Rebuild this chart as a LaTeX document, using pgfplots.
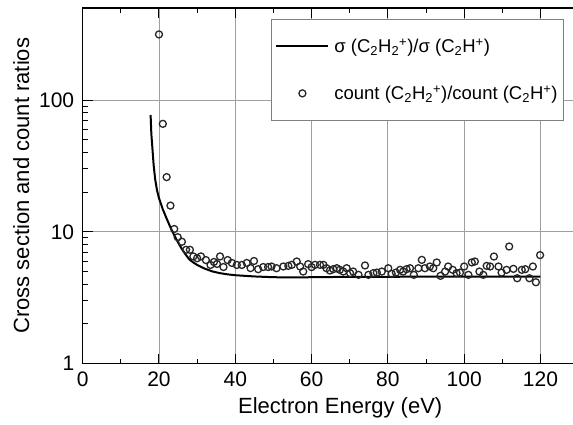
\documentclass[border=0pt]{standalone}
\usepackage{fontspec}
\setmainfont{Liberation Sans}
\usepackage{pgfplots}
\pgfplotsset{compat=1.18}

\newcommand{\subsup}[2]{\textsubscript{#1}\textsuperscript{#2}}

\begin{document}
\begin{tikzpicture}
\useasboundingbox (-82.7bp,-61.5bp) rectangle (490.3bp,363.5bp);
\begin{axis}[
    at={(0,0)}, anchor=south west,
    scale only axis,
    width=515bp, height=355.5bp,
    xmin=0, xmax=135,
    ymode=log, ymin=1, ymax=500,
    xtick={0,20,...,120},
    minor x tick num=1,
    ytick={1,10,100},
    yticklabels={1,10,100},
    /pgf/number format/assume math mode=true,
    grid=major,
    major grid style={gray!75, line width=0.9bp},
    axis line style={line width=1.6bp},
    tick style={black, line width=1bp},
    major tick length=10bp,
    minor tick length=5bp,
    tick label style={font=\fontsize{21bp}{24bp}\selectfont},
    xticklabel style={yshift=-5bp},
    yticklabel style={xshift=-5bp},
    label style={font=\fontsize{22bp}{26bp}\selectfont},
    xlabel={Electron Energy (eV)},
    xlabel style={yshift=-4bp},
    ylabel={Cross section and count ratios},
    ylabel style={yshift=3bp},
    legend cell align=left,
    legend image code/.code={\draw[mark repeat=2,mark phase=2,#1] plot coordinates {(0bp,0bp)(26bp,0bp)(52bp,0bp)};},
    legend style={at={(0.9346,0.97)}, anchor=north east,
        draw=gray, line width=0.8bp, fill=white,
        font=\fontsize{18.5bp}{22bp}\selectfont,
        row sep=28bp, column sep=3bp, inner xsep=4bp, inner ysep=17.5bp},
]
\addplot[black, line width=2bp, no marks] coordinates {
    (17.8,77) (18.0,55) (18.3,42) (18.6,32) (19.0,25) (19.5,20.5) (20,18)
    (21,14.8) (22,12.6) (23,10.8) (24,9.4) (25,8.3) (26,7.4) (27,6.7)
    (28,6.15) (29,5.85) (30,5.6) (32,5.25) (34,5.0) (36,4.85) (38,4.75)
    (40,4.68) (45,4.58) (50,4.52) (55,4.5) (60,4.52) (70,4.55) (80,4.55)
    (90,4.57) (100,4.57) (110,4.57) (120,4.57)
};
\addlegendentry{σ (C\textsubscript{2}H\subsup{2}{+})/σ (C\textsubscript{2}H\textsuperscript{+})}
\addplot[only marks, mark=o, mark size=3.5bp, mark options={line width=1.3bp, black!85}] table {
x y
20 315
21 66
22 26
23 15.8
24 10.5
24.9 9.1
26 8.4
27.1 7.3
28.1 7.3
29 6.5
30 6.3
31 6.5
32.3 6.1
33.5 5.6
34.4 5.9
35.2 5.7
36 6.5
36.9 5.4
38 6.1
39.1 5.8
40.4 5.6
41.7 5.6
43 5.8
44 5.3
44.9 6.0
46 5.2
47.3 5.4
48.6 5.4
49.5 5.45
50.8 5.29
52.6 5.45
53.9 5.51
54.8 5.61
56.1 5.95
57.0 5.45
57.8 4.99
59.1 5.68
60.0 5.39
60.9 5.61
62.2 5.61
63.1 5.61
63.9 5.29
64.8 5.08
65.7 5.20
66.6 5.29
67.4 5.14
68.3 4.99
69.2 5.29
70.1 4.85
70.9 4.99
72.3 4.71
74.0 5.55
74.9 4.71
76.2 4.85
77.1 4.90
78.4 4.99
80.1 5.29
81.0 4.79
82.1 4.90
83.2 5.14
84.0 4.99
84.9 5.20
85.8 5.29
86.8 4.71
88.0 5.29
88.9 6.12
89.7 5.29
91.0 5.45
91.9 5.29
92.8 5.85
93.8 4.63
95.0 4.99
95.8 5.45
97.0 5.14
98.0 4.85
98.9 4.90
100.0 5.45
101.1 4.71
102.0 5.85
102.8 5.95
104.0 4.99
105.0 4.71
105.9 5.51
106.8 5.45
107.8 6.49
109.0 5.45
109.8 4.90
111.1 5.14
111.8 7.73
112.9 5.23
113.9 4.44
115.1 5.14
116.0 5.20
117.1 4.44
118.0 5.45
118.8 4.14
119.9 6.65
};
\addlegendentry{count (C\textsubscript{2}H\subsup{2}{+})/count (C\textsubscript{2}H\textsuperscript{+})}
\end{axis}
\end{tikzpicture}
\end{document}
